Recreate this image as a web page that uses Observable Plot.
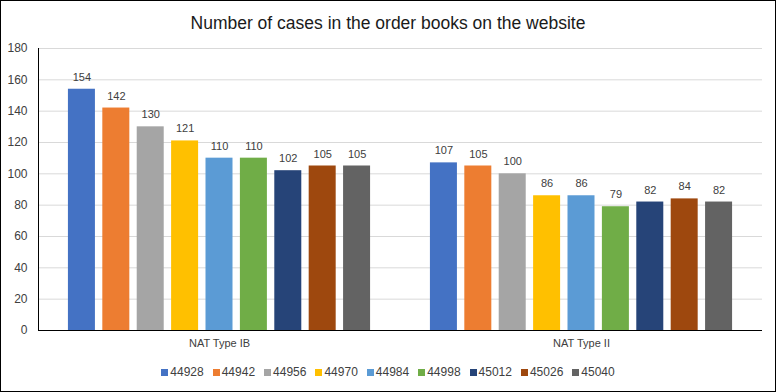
<!DOCTYPE html>
<html>
<head>
<meta charset="utf-8">
<script src="https://cdn.jsdelivr.net/npm/d3@7"></script>
<script src="https://cdn.jsdelivr.net/npm/@observablehq/plot@0.6"></script>
<style>
  html, body { margin: 0; padding: 0; background: #fff; }
  #wrap { position: relative; width: 776px; height: 392px; box-sizing: border-box; border: 1px solid #000; background: #fff; overflow: hidden; font-family: "Liberation Sans", Arial, sans-serif; }
  #title { position: absolute; left: 0; right: 0; top: 11px; text-align: center; font-size: 17.5px; color: #1a1a1a; line-height: 22px; }
  #chart { position: absolute; left: 0; top: 0; }
  #legend { position: absolute; left: 0; right: 0; top: 363px; display: flex; justify-content: center; gap: 9px; font-size: 12px; color: #404040; line-height: 16px; }
  .item { display: flex; align-items: center; }
  .sw { width: 7px; height: 7px; margin-right: 2px; display: inline-block; }
</style>
</head>
<body>
<div id="wrap">
  <div id="title">Number of cases in the order books on the website</div>
  <div id="chart"></div>
  <div id="legend"></div>
</div>
<script>
const groups = ["NAT Type IB", "NAT Type II"];
const series = ["44928", "44942", "44956", "44970", "44984", "44998", "45012", "45026", "45040"];
const typeIB = [154, 142, 130, 121, 110, 110, 102, 105, 105];
const typeII = [107, 105, 100, 86, 86, 79, 82, 84, 82];
const colors = ["#4472C4", "#ED7D31", "#A5A5A5", "#FFC000", "#5B9BD5", "#70AD47", "#264478", "#9E480E", "#636363"];
const yTicks = [0, 20, 40, 60, 80, 100, 120, 140, 160, 180];

const values = [typeIB, typeII];
const data = groups.flatMap((g, gi) => series.map((s, i) => ({group: g, series: s, value: values[gi][i]})));

const marks = [
  Plot.gridY(yTicks, {stroke: "#d9d9d9", strokeOpacity: 1}),
  Plot.barY(data, {fx: "group", x: "series", y: "value", fill: "series"}),
  Plot.text(data, {fx: "group", x: "series", y: "value", text: d => String(d.value), dy: -12, fill: "#404040", fontSize: 11}),
  Plot.ruleY([0], {stroke: "#000", strokeWidth: 1}),
  Plot.axisY({ticks: yTicks, tickSize: 0, tickPadding: 11, label: null, fontSize: 12, fill: "#404040"}),
  Plot.axisFx({anchor: "bottom", tickSize: 0, tickPadding: 9, label: null, fontSize: 11, fill: "#404040"})
];
try {
  marks.push(Plot.frame({anchor: "left", facetAnchor: "left", stroke: "#000"}));
} catch (e) {}

const chart = Plot.plot({
  width: 774,
  height: 355,
  marginTop: 47,
  marginLeft: 37,
  marginRight: 13,
  marginBottom: 26,
  style: {fontFamily: "Liberation Sans, Arial, sans-serif", background: "transparent", color: "#404040"},
  fx: {domain: groups, padding: 0, label: null, round: false},
  x: {domain: series, paddingInner: 0.215, paddingOuter: 0.87, axis: null, round: false},
  y: {domain: [0, 180], axis: null},
  color: {domain: series, range: colors},
  marks
});
document.getElementById("chart").appendChild(chart);

const legend = document.getElementById("legend");
series.forEach((s, i) => {
  const item = document.createElement("div");
  item.className = "item";
  const sw = document.createElement("span");
  sw.className = "sw";
  sw.style.background = colors[i];
  item.appendChild(sw);
  item.appendChild(document.createTextNode(s));
  legend.appendChild(item);
});
</script>
</body>
</html>
